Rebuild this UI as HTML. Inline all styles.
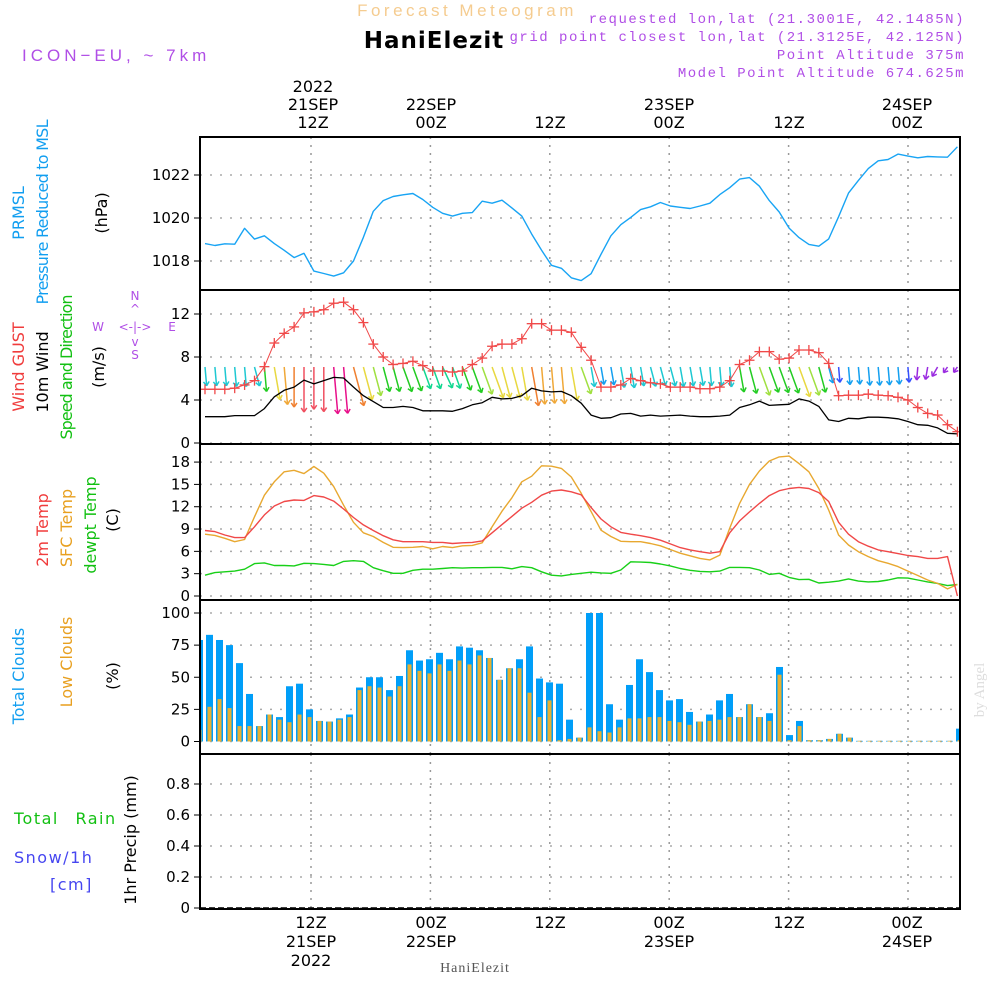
<!DOCTYPE html>
<html><head><meta charset="utf-8"><style>
html,body{margin:0;padding:0;background:#fff;}
svg{display:block;font-family:"DejaVu Sans","Liberation Sans",sans-serif;}
.tk{font-size:15px;fill:#000;text-anchor:end;}
.tl{font-size:16px;fill:#000;text-anchor:middle;}
.lab{font-size:16px;text-anchor:middle;}
.pur{fill:#b04ee6;font-family:"Liberation Mono","DejaVu Sans Mono",monospace;font-size:14px;letter-spacing:1.5px;}
</style></head><body>
<svg id="chart" width="1000" height="1000" viewBox="0 0 1000 1000" xmlns="http://www.w3.org/2000/svg">
<defs><clipPath id="plotclip"><rect x="200" y="130" width="760" height="790"/></clipPath></defs>
<g>
<text x="467" y="16" text-anchor="middle" font-size="17" fill="#f5cc90" letter-spacing="3.5" font-family="Liberation Sans,sans-serif">Forecast Meteogram</text>
<text x="434" y="48" text-anchor="middle" font-size="23" font-weight="bold" fill="#000" letter-spacing="1" font-family="DejaVu Sans,sans-serif">HaniElezit</text>
<text x="965" y="23" text-anchor="end" class="pur">requested lon,lat (21.3001E, 42.1485N)</text>
<text x="965" y="41" text-anchor="end" class="pur">grid point closest lon,lat (21.3125E, 42.125N)</text>
<text x="965" y="59" text-anchor="end" class="pur">Point Altitude 375m</text>
<text x="965" y="77" text-anchor="end" class="pur">Model Point Altitude 674.625m</text>
<text x="22" y="61" font-size="17" fill="#b04ee6" letter-spacing="4" font-family="Liberation Sans,sans-serif">ICON−EU, ~ 7km</text>
</g>
<g>
<text x="313" y="92" class="tl">2022</text>
<text x="313" y="110" class="tl">21SEP</text>
<text x="313" y="128" class="tl">12Z</text>
<text x="431" y="110" class="tl">22SEP</text>
<text x="431" y="128" class="tl">00Z</text>
<text x="550" y="128" class="tl">12Z</text>
<text x="669" y="110" class="tl">23SEP</text>
<text x="669" y="128" class="tl">00Z</text>
<text x="789" y="128" class="tl">12Z</text>
<text x="907" y="110" class="tl">24SEP</text>
<text x="907" y="128" class="tl">00Z</text>
</g>
<g>
<text x="311" y="928" class="tl">12Z</text>
<text x="311" y="947" class="tl">21SEP</text>
<text x="311" y="966" class="tl">2022</text>
<text x="431" y="928" class="tl">00Z</text>
<text x="431" y="947" class="tl">22SEP</text>
<text x="550" y="928" class="tl">12Z</text>
<text x="669" y="928" class="tl">00Z</text>
<text x="669" y="947" class="tl">23SEP</text>
<text x="789" y="928" class="tl">12Z</text>
<text x="907" y="928" class="tl">00Z</text>
<text x="907" y="947" class="tl">24SEP</text>
<text x="475" y="972" text-anchor="middle" font-size="14" fill="#555" letter-spacing="1" font-family="Liberation Serif,serif">HaniElezit</text>
<text x="0" y="0" transform="translate(984,690) rotate(-90)" text-anchor="middle" font-size="15" fill="#ddd" font-family="Liberation Serif,serif">by Angel</text>
</g>
<g>
<text transform="translate(24,213) rotate(-90)" class="lab" fill="#119ef0">PRMSL</text>
<text transform="translate(48,212) rotate(-90)" class="lab" fill="#119ef0" textLength="185">Pressure Reduced to MSL</text>
<text transform="translate(107,213) rotate(-90)" class="lab" fill="#000">(hPa)</text>
<text transform="translate(24,367) rotate(-90)" class="lab" fill="#f03c3c">Wind GUST</text>
<text transform="translate(48,372) rotate(-90)" class="lab" fill="#000">10m Wind</text>
<text transform="translate(72,367) rotate(-90)" class="lab" fill="#12c012" textLength="145">Speed and Direction</text>
<text transform="translate(104,367) rotate(-90)" class="lab" fill="#000">(m/s)</text>
<g fill="#b04ee6" font-size="12" text-anchor="middle">
<text x="135" y="300">N</text><text x="135" y="313">^</text><text x="135" y="331">&lt;-|-&gt;</text>
<text x="98" y="331">W</text><text x="172" y="331">E</text><text x="135" y="346">v</text><text x="135" y="359">S</text>
</g>
<text transform="translate(48,530) rotate(-90)" class="lab" fill="#f03c3c">2m Temp</text>
<text transform="translate(72,528) rotate(-90)" class="lab" fill="#e8a020">SFC Temp</text>
<text transform="translate(96,525) rotate(-90)" class="lab" fill="#12c012">dewpt Temp</text>
<text transform="translate(118,520) rotate(-90)" class="lab" fill="#000">(C)</text>
<text transform="translate(24,676) rotate(-90)" class="lab" fill="#119ef0">Total Clouds</text>
<text transform="translate(72,662) rotate(-90)" class="lab" fill="#e8a020">Low Clouds</text>
<text transform="translate(118,676) rotate(-90)" class="lab" fill="#000">(%)</text>
<text x="14" y="824" font-size="16" fill="#12c012" letter-spacing="1.5" word-spacing="10">Total Rain</text>
<text x="14" y="863" font-size="16" fill="#4646f0" letter-spacing="1.5">Snow/1h</text>
<text x="50" y="890" font-size="16" fill="#4646f0" letter-spacing="1.5">[cm]</text>
<text transform="translate(136,840) rotate(-90)" class="lab" fill="#000">1hr Precip (mm)</text>
</g>
<g id="grid"></g>
<g id="marks" clip-path="url(#plotclip)"></g>
<g id="frames"></g>
<g id="ticks"></g>
</svg>
<script>
const pressure=[1018.81,1018.72,1018.8,1018.78,1019.52,1019.02,1019.17,1018.81,1018.5,1018.16,1018.36,1017.53,1017.42,1017.3,1017.45,1018.0,1019.1,1020.31,1020.81,1021.0,1021.08,1021.14,1020.86,1020.5,1020.22,1020.09,1020.22,1020.25,1020.78,1020.69,1020.83,1020.47,1020.09,1019.25,1018.5,1017.8,1017.66,1017.22,1017.09,1017.41,1018.31,1019.17,1019.69,1020.03,1020.39,1020.52,1020.72,1020.56,1020.5,1020.44,1020.56,1020.69,1021.09,1021.41,1021.81,1021.88,1021.48,1020.81,1020.28,1019.53,1019.09,1018.77,1018.69,1019.03,1020.06,1021.16,1021.75,1022.3,1022.66,1022.72,1022.97,1022.88,1022.8,1022.86,1022.84,1022.83,1023.31];
const gust=[5.0,5.0,5.0,5.1,5.4,5.8,7.1,9.3,10.2,10.8,12.1,12.2,12.4,13.0,13.1,12.4,11.2,9.2,8.0,7.3,7.4,7.6,7.2,6.7,6.7,6.6,6.7,7.3,7.9,9.0,9.2,9.2,9.7,11.1,11.1,10.5,10.5,10.3,8.9,7.7,5.2,5.2,5.4,6.0,5.8,5.6,5.5,5.2,5.2,5.2,5.05,5.05,5.2,5.8,7.3,7.7,8.5,8.5,7.8,7.9,8.65,8.65,8.4,7.4,4.4,4.45,4.45,4.55,4.45,4.4,4.25,4.0,3.3,2.75,2.6,1.7,1.05];
const wind=[2.45,2.45,2.45,2.55,2.55,2.55,3.2,4.3,4.9,5.2,5.85,5.5,5.8,6.1,6.05,5.2,4.4,3.85,3.3,3.3,3.4,3.3,3.0,3.0,3.0,2.95,3.2,3.55,3.75,4.25,4.1,4.15,4.4,5.1,4.85,4.75,4.8,4.4,3.7,2.6,2.3,2.35,2.7,2.75,2.5,2.6,2.5,2.55,2.6,2.5,2.45,2.45,2.5,2.6,3.3,3.55,3.9,3.5,3.55,3.6,4.1,3.9,3.4,2.15,2.0,2.3,2.25,2.4,2.4,2.35,2.25,2.0,1.7,1.65,1.4,0.9,0.85];
const windTilt=[5,5,5,5,5,15,5,10,5,0,0,0,0,5,5,15,15,15,15,15,20,20,20,20,25,20,20,20,20,20,15,15,10,10,5,5,5,10,20,10,10,10,10,10,10,15,15,15,10,10,10,5,5,5,10,15,20,20,20,20,20,20,15,15,5,5,5,5,5,5,5,5,-5,-10,-30,-35,-35];
const temp2m=[8.8,8.65,8.2,7.85,7.85,9.3,10.9,12.1,12.7,12.9,12.85,13.5,13.3,12.75,11.7,10.55,9.55,8.8,8.1,7.55,7.3,7.3,7.3,7.2,7.2,7.05,7.15,7.2,7.4,8.5,9.6,10.7,11.8,12.6,13.55,14.1,14.25,14.0,13.6,11.9,10.35,9.3,8.55,8.3,8.1,7.85,7.5,7.0,6.5,6.2,5.95,5.75,5.95,8.5,10.1,11.3,12.45,13.5,14.15,14.45,14.6,14.45,13.9,12.7,9.9,8.3,7.3,6.7,6.2,5.95,5.7,5.45,5.3,5.05,5.05,5.3,0];
const tempSfc=[8.3,8.15,7.75,7.3,7.6,10.65,13.55,15.35,16.7,16.9,16.45,17.4,16.5,14.7,12.2,9.9,8.5,8.0,7.2,6.55,6.5,6.55,6.65,6.35,6.65,6.5,6.75,6.8,7.15,9.3,11.4,13.2,15.35,16.1,17.5,17.45,17.15,16.0,13.8,11.35,8.85,8.0,7.35,7.3,7.3,7.05,6.75,6.25,5.75,5.4,5.05,4.85,5.5,9.1,12.45,15.0,16.8,18.15,18.7,18.8,17.8,16.7,14.45,11.55,8.2,6.85,5.95,5.3,4.75,4.4,3.95,3.35,2.75,2.15,1.7,0.95,1.55];
const dewpt=[2.8,3.15,3.25,3.35,3.6,4.35,4.45,4.1,4.1,4.05,4.4,4.35,4.25,4.1,4.65,4.75,4.65,3.8,3.4,3.05,3.05,3.45,3.6,3.6,3.7,3.8,3.75,3.8,3.8,3.85,3.85,3.65,3.95,3.8,3.25,2.8,2.7,2.9,3.05,3.2,3.1,3.05,3.5,4.6,4.55,4.5,4.3,4.05,3.7,3.45,3.3,3.25,3.35,3.85,3.85,3.8,3.5,2.9,3.05,2.5,2.2,2.25,1.75,1.85,2.0,2.3,2.0,1.9,1.95,2.15,2.45,2.4,2.15,1.9,1.7,1.4,1.55];
const totalClouds=[79,83,79,75,61,37,12,21,19,43,45,25,16,15.5,18,21,42,50,50,40,51,71,63,64,69,64,74,73,71,65,48,57,64,74,49,46,45,17,3,100,100,29,17,44,64,54,40,32,33,23,15.5,21,32,37,19,29,19,22,58,5,16,1,1,2,6,3,0.5,0.5,0.5,0.5,0.5,0.5,0.5,0.5,0.5,0.5,10];
const lowClouds=[9,27,33,26,12,12,12,21,17,15,21,19,16,15.5,17,19,40,43,42,35,43,60,55,53,60,55,63,60,67,65,48,57,57,38,19,32,1,2,3,11,8,7,11,18,18,19,19,16,15,13,15.5,16,17,19,19,29,19,16,52,1,12,1,1,2,6,3,0.5,0.5,0.5,0.5,0.5,0.5,0.5,0.5,0.5,0.5,1];
const precip=[];
const pTicks=[1018,1020,1022];
const wTicks=[0,4,8,12];
const tTicks=[0,3,6,9,12,15,18];
const cTicks=[0,25,50,75,100];
const rTicks=[0,0.2,0.4,0.6,0.8];
const timeTicksHours=[12,24,36,48,60,72];

const NS='http://www.w3.org/2000/svg';
const X0=200,X1=960;
function xTime(h){return 311+(h-12)*9.95;}
function xLine(i){return 205+9.9*i;}
function xBar(i){return 199.5+10*i;}
function yP(v){return 175+(1022-v)*21.5;}
function yW(v){return 443-v*10.75;}
function yT(v){return 596-v*7.44;}
function yC(v){return 741.5-v*1.285;}
function yR(v){return 908-v*155;}
function mk(tag,attrs,parent){const e=document.createElementNS(NS,tag);for(const k in attrs)e.setAttribute(k,attrs[k]);parent.appendChild(e);return e;}
const grid=document.getElementById('grid'),marks=document.getElementById('marks'),frames=document.getElementById('frames'),ticksG=document.getElementById('ticks');
const panels=[{t:137,b:290,ticks:pTicks,y:yP,n:'pressure'},{t:290,b:444,ticks:wTicks,y:yW,n:'wind'},{t:444,b:600,ticks:tTicks,y:yT,n:'temp'},{t:600,b:754,ticks:cTicks,y:yC,n:'clouds'},{t:754,b:909,ticks:rTicks,y:yR,n:'precip'}];
panels.forEach(p=>{
  p.ticks.forEach(v=>{
    const y=p.y(v);
    const gl=mk('line',{x1:X0,x2:X1,y1:y,y2:y,stroke:'#aaa','stroke-width':1.5,'stroke-dasharray':'2,8'},grid);
    
    
    const tm=mk('line',{x1:X0-6,x2:X0,y1:y,y2:y,stroke:'#000','stroke-width':1},ticksG);
    
    
    const tx=mk('text',{x:X0-10,y:y+5,class:'tk'},ticksG);
    tx.textContent=String(v);
    
    
  });
  timeTicksHours.forEach(h=>{
    const x=xTime(h);
    const vl=mk('line',{x1:x,x2:x,y1:p.t,y2:p.b,stroke:'#999','stroke-width':1.5,'stroke-dasharray':'2,6'},grid);
    
    
  });
  const fr=mk('rect',{x:X0,y:p.t,width:X1-X0,height:p.b-p.t,fill:'none',stroke:'#000','stroke-width':2},frames);
  
  
});
function poly(arr,yf,color,name,w){
  const pts=arr.map((v,i)=>xLine(i).toFixed(1)+','+yf(v).toFixed(1)).join(' ');
  const pl=mk('polyline',{points:pts,fill:'none',stroke:color,'stroke-width':w||1.4,'stroke-linejoin':'round'},marks);
  
  
}
poly(pressure,yP,'#18a4f4','pressure-line');
totalClouds.forEach((v,i)=>{
  const x=xBar(i);
  const b=mk('rect',{x:x-3.5,y:yC(v),width:7,height:yC(0)-yC(v),fill:'#009ef8'},marks);
  
  
});
lowClouds.forEach((v,i)=>{
  const x=xBar(i);
  const b=mk('rect',{x:x-2,y:yC(v),width:4,height:yC(0)-yC(v),fill:'#e8b030'},marks);
  
  
});
function windColor(s){
  if(s<1.8)return'#9a2be0';if(s<2.05)return'#3550ff';if(s<2.45)return'#14a0f0';if(s<2.9)return'#1ec8d2';
  if(s<3.2)return'#10d890';if(s<3.7)return'#22cc22';if(s<4.1)return'#a0e040';if(s<4.6)return'#e8d840';
  if(s<5.0)return'#f0a838';if(s<5.5)return'#f08030';if(s<6.0)return'#f05060';return'#e8108a';
}
wind.forEach((s,i)=>{
  const x=xLine(i),y0=367,L=s*7.7,a=windTilt[i]*Math.PI/180;
  const x2=x+L*Math.sin(a),y2=y0+L*Math.cos(a);
  const c=windColor(s);
  const g=mk('g',{stroke:c,'stroke-width':1.5,fill:'none'},marks);
  
  
  mk('line',{x1:x,y1:y0,x2:x2,y2:y2},g);
  const h=5;
  [a+0.6,a-0.6].forEach(b=>{mk('line',{x1:x2,y1:y2,x2:x2-h*Math.sin(b),y2:y2-h*Math.cos(b)},g);});
});
poly(wind,yW,'#000','wind-speed-line',1.3);
poly(gust,yW,'#f04848','wind-gust-line',1);
gust.forEach((v,i)=>{
  const x=xLine(i),y=yW(v);
  const g=mk('g',{stroke:'#f04848','stroke-width':1.3},marks);
  
  
  mk('line',{x1:x-5,x2:x+5,y1:y,y2:y},g);
  mk('line',{x1:x,x2:x,y1:y-5,y2:y+5},g);
});
poly(dewpt,yT,'#18d018','dewpoint-line');
poly(tempSfc,yT,'#e8a830','sfc-temp-line');
poly(temp2m,yT,'#f04848','2m-temp-line');
const pz=mk('line',{x1:X0,x2:X1,y1:yR(0),y2:yR(0),stroke:'#000','stroke-width':1.5,'stroke-dasharray':'6,3'},marks);


precip.forEach((v,i)=>{
  const b=mk('rect',{x:xBar(i)-3,y:yR(v),width:6,height:yR(0)-yR(v),fill:'#18d018'},marks);
  
  
});
</script>
</body></html>
